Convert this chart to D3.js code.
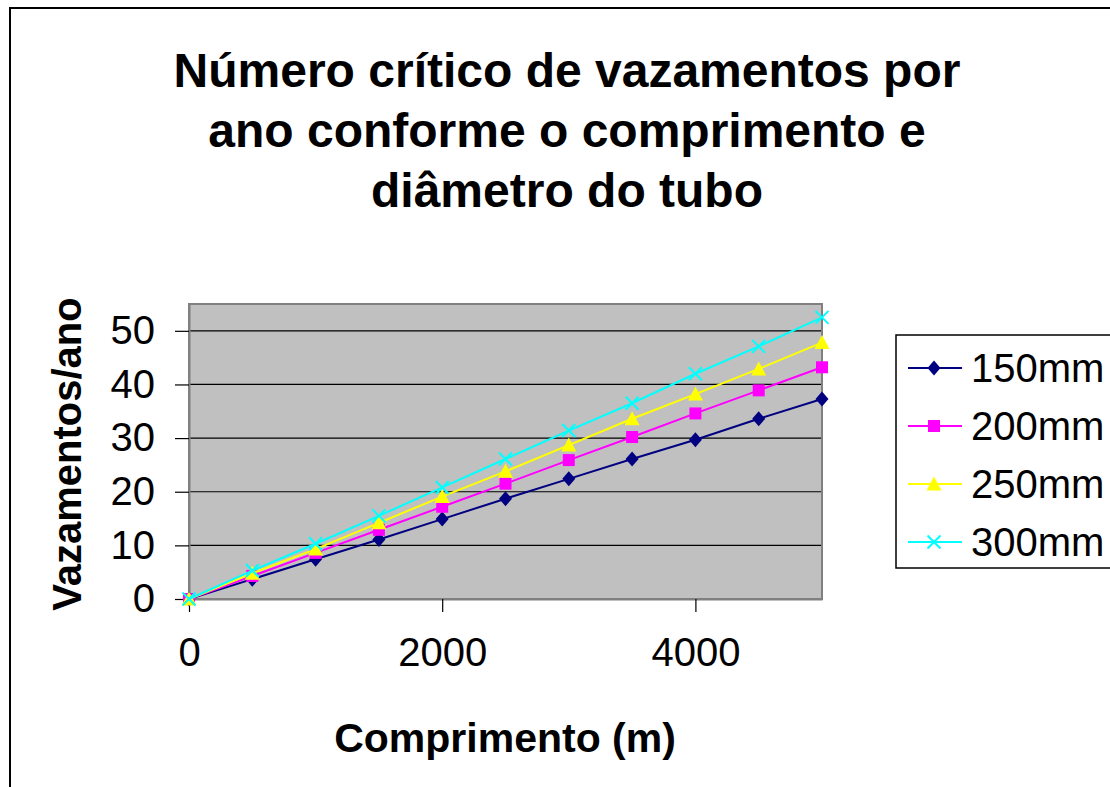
<!DOCTYPE html>
<html>
<head>
<meta charset="utf-8">
<script src="https://cdn.jsdelivr.net/npm/d3@7"></script>
<style>
  html, body { margin: 0; padding: 0; background: #fff; }
  svg { display: block; font-family: "Liberation Sans", Arial, sans-serif; }
</style>
</head>
<body>
<svg id="chart" width="1110" height="787"></svg>
<script>
const titleLines = ["Número crítico de vazamentos por", "ano conforme o comprimento e", "diâmetro do tubo"];
const xLabel = "Comprimento (m)";
const yLabel = "Vazamentos/ano";
const lengths = [0, 500, 1000, 1500, 2000, 2500, 3000, 3500, 4000, 4500, 5000];
const seriesNames = ["150mm", "200mm", "250mm", "300mm"];
const s150 = [0, 3.7, 7.4, 11.1, 14.9, 18.7, 22.4, 26.1, 29.7, 33.6, 37.3];
const s200 = [0, 4.3, 8.6, 12.9, 17.2, 21.5, 25.9, 30.2, 34.6, 38.9, 43.2];
const s250 = [0, 4.8, 9.3, 14.2, 19.1, 23.8, 28.7, 33.6, 38.2, 42.9, 47.8];
const s300 = [0, 5.3, 10.3, 15.5, 20.8, 26.1, 31.4, 36.5, 42.0, 47.1, 52.5];
const xTicks = [0, 2000, 4000];
const yTicks = [0, 10, 20, 30, 40, 50];

const seriesValues = [s150, s200, s250, s300];
const colors = ["#000080", "#FF00FF", "#FFFF00", "#00FFFF"];
const markers = ["diamond", "square", "triangle", "x"];

const svg = d3.select("#chart");

// outer chart border
svg.append("rect").attr("x", 10).attr("y", 8).attr("width", 1120).attr("height", 800)
  .attr("fill", "#fff").attr("stroke", "#000").attr("stroke-width", 2);

const plot = { left: 189, right: 822, top: 304, bottom: 599 };
const x = d3.scaleLinear().domain([0, 5000]).range([plot.left, plot.right]);
const y = d3.scaleLinear().domain([0, 55]).range([plot.bottom, plot.top]);

// title
const title = svg.append("text").attr("text-anchor", "middle")
  .attr("font-weight", "bold").attr("font-size", 48).attr("fill", "#000");
titleLines.forEach((t, i) => {
  title.append("tspan").attr("x", 567).attr("y", 87 + i * 60).text(t);
});

// plot area background
svg.append("rect").attr("x", plot.left).attr("y", plot.top)
  .attr("width", plot.right - plot.left).attr("height", plot.bottom - plot.top)
  .attr("fill", "#C0C0C0");

// gridlines
svg.append("g").selectAll("line").data(yTicks.filter(d => d > 0)).join("line")
  .attr("x1", plot.left).attr("x2", plot.right)
  .attr("y1", d => y(d)).attr("y2", d => y(d))
  .attr("stroke", "#000").attr("stroke-width", 1.2);

// plot border
svg.append("rect").attr("x", plot.left).attr("y", plot.top)
  .attr("width", plot.right - plot.left).attr("height", plot.bottom - plot.top)
  .attr("fill", "none").attr("stroke", "#808080").attr("stroke-width", 2);

// axes
const xAxis = d3.axisBottom(x).tickValues(xTicks).tickSize(13).tickSizeOuter(0).tickPadding(26).tickFormat(d3.format("d"));
const gx = svg.append("g").attr("transform", `translate(0,${plot.bottom})`).call(xAxis);
gx.select(".domain").attr("stroke", "#808080").attr("stroke-width", 2);
gx.selectAll(".tick line").attr("stroke", "#000").attr("stroke-width", 1.2);
gx.selectAll(".tick text").attr("font-size", 40).attr("font-family", "Liberation Sans, Arial, sans-serif").attr("fill", "#000");

const yAxis = d3.axisLeft(y).tickValues(yTicks).tickSize(14).tickSizeOuter(0).tickPadding(20).tickFormat(d3.format("d"));
const gy = svg.append("g").attr("transform", `translate(${plot.left},0)`).call(yAxis);
gy.select(".domain").attr("stroke", "#808080").attr("stroke-width", 2);
gy.selectAll(".tick line").attr("stroke", "#000").attr("stroke-width", 1.2);
gy.selectAll(".tick text").attr("font-size", 40).attr("font-family", "Liberation Sans, Arial, sans-serif").attr("fill", "#000");

// axis titles
svg.append("text").attr("x", 505).attr("y", 752).attr("text-anchor", "middle")
  .attr("font-weight", "bold").attr("font-size", 41).text(xLabel);
svg.append("text").attr("transform", "translate(81,454) rotate(-90)").attr("text-anchor", "middle")
  .attr("font-weight", "bold").attr("font-size", 40).text(yLabel);

function drawMarker(g, type, color, cx, cy) {
  if (type === "diamond") {
    g.append("path").attr("d", `M${cx},${cy - 7.5}L${cx + 6.5},${cy}L${cx},${cy + 7.5}L${cx - 6.5},${cy}Z`).attr("fill", color);
  } else if (type === "square") {
    g.append("rect").attr("x", cx - 6).attr("y", cy - 6).attr("width", 12).attr("height", 12).attr("fill", color);
  } else if (type === "triangle") {
    g.append("path").attr("d", `M${cx},${cy - 7.5}L${cx + 7.5},${cy + 6.5}L${cx - 7.5},${cy + 6.5}Z`).attr("fill", color);
  } else {
    g.append("path").attr("d", `M${cx - 6.5},${cy - 6.5}L${cx + 6.5},${cy + 6.5}M${cx - 6.5},${cy + 6.5}L${cx + 6.5},${cy - 6.5}`)
      .attr("stroke", color).attr("stroke-width", 2).attr("fill", "none");
  }
}

const line = d3.line().x(d => x(d[0])).y(d => y(d[1]));
seriesValues.forEach((vals, si) => {
  const pts = lengths.map((l, i) => [l, vals[i]]);
  const g = svg.append("g");
  g.append("path").attr("d", line(pts)).attr("fill", "none")
    .attr("stroke", colors[si]).attr("stroke-width", 2);
  pts.forEach(p => drawMarker(g, markers[si], colors[si], x(p[0]), y(p[1])));
});

// legend
const leg = svg.append("g");
leg.append("rect").attr("x", 896).attr("y", 335).attr("width", 240).attr("height", 233)
  .attr("fill", "#fff").attr("stroke", "#000").attr("stroke-width", 1.5);
seriesNames.forEach((name, i) => {
  const cy = 368 + i * 58;
  leg.append("line").attr("x1", 908).attr("x2", 962).attr("y1", cy).attr("y2", cy)
    .attr("stroke", colors[i]).attr("stroke-width", 2);
  drawMarker(leg, markers[i], colors[i], 934, cy);
  leg.append("text").attr("x", 971).attr("y", cy).attr("dy", "0.36em")
    .attr("font-size", 40).attr("fill", "#000").text(name);
});
</script>
</body>
</html>
